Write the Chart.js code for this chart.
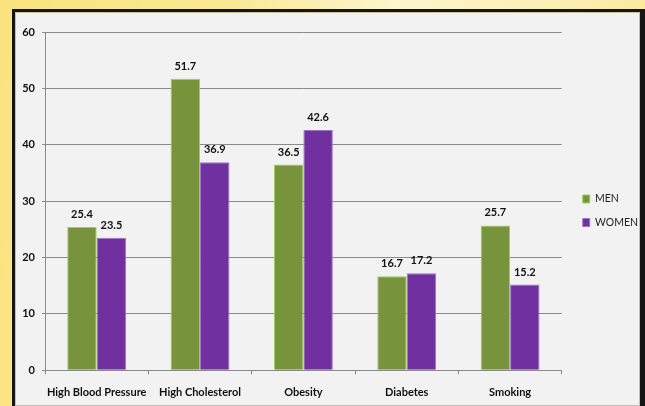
<!DOCTYPE html>
<html>
<head>
<meta charset="utf-8">
<script src="https://cdn.jsdelivr.net/npm/chart.js@4.4.0/dist/chart.umd.min.js"></script>
<style>
    html, body {
        margin: 0;
        padding: 0;
        width: 645px;
        height: 406px;
        overflow: hidden;
    }
    body {
        position: relative;
        background: linear-gradient(100deg, #fae37e 0%, #fbe892 30%, #fdf5cc 55%, #fcefb2 80%, #fae48a 100%);
    }
    .frame {
        position: absolute;
        left: 12px;
        top: 9px;
        width: 633px;
        height: 397px;
        background: #151515;
    }
    .panel {
        position: absolute;
        left: 3px;
        top: 3px;
        width: 623px;
        height: 392px;
        border: 1px solid #c9c39c;
        background: #f2f2f2;
        overflow: hidden;
    }
    #riskChart {
        display: block;
    }
</style>
</head>
<body>
<div class="frame">
    <div class="panel">
        <canvas id="riskChart" width="623" height="392"></canvas>
    </div>
</div>
<script>
const FONT = "Lato, 'DejaVu Sans Condensed', sans-serif";

// chart values
const categories = ['High Blood Pressure', 'High Cholesterol', 'Obesity', 'Diabetes', 'Smoking'];
const menValues = [25.4, 51.7, 36.5, 16.7, 25.7];
const womenValues = [23.5, 36.9, 42.6, 17.2, 15.2];
const seriesNames = ['MEN', 'WOMEN'];
const yTicks = [0, 10, 20, 30, 40, 50, 60];

Chart.defaults.font.family = FONT;
Chart.defaults.color = '#111';

// value above each bar
const valueLabels = {
    id: 'valueLabels',
    afterDatasetsDraw(chart) {
        const ctx = chart.ctx;
        ctx.save();
        ctx.font = 'bold 11px ' + FONT;
        ctx.fillStyle = '#111';
        ctx.textAlign = 'center';
        ctx.textBaseline = 'alphabetic';
        chart.data.datasets.forEach((ds, i) => {
            chart.getDatasetMeta(i).data.forEach((bar, j) => {
                ctx.fillText(ds.data[j].toFixed(1), bar.x, bar.y - 9);
            });
        });
        ctx.restore();
    }
};

// legend sits a little above the canvas middle
const legendNudge = {
    id: 'legendNudge',
    afterLayout(chart) {
        chart.legend.top -= 10.5;
        chart.legend.bottom -= 10.5;
    }
};

const ctx = document.getElementById('riskChart').getContext('2d');
new Chart(ctx, {
    type: 'bar',
    data: {
        labels: categories,
        datasets: [
            {
                label: seriesNames[0],
                data: menValues,
                backgroundColor: '#77933c',
                borderColor: '#9bd05a',
                borderWidth: 1,
                categoryPercentage: 0.57,
                barPercentage: 1
            },
            {
                label: seriesNames[1],
                data: womenValues,
                backgroundColor: '#7030a0',
                borderColor: '#9a74c4',
                borderWidth: 1,
                categoryPercentage: 0.57,
                barPercentage: 1
            }
        ]
    },
    options: {
        responsive: false,
        animation: false,
        layout: {
            padding: { top: 19, left: 2, right: -9, bottom: -5.5 }
        },
        plugins: {
            tooltip: { enabled: false },
            legend: {
                position: 'right',
                align: 'center',
                labels: {
                    boxWidth: 7,
                    boxHeight: 8,
                    padding: 13,
                    color: '#222',
                    font: { size: 10.5 }
                }
            }
        },
        scales: {
            x: {
                grid: {
                    drawOnChartArea: false,
                    drawTicks: true,
                    tickLength: 4,
                    color: '#8a8a8a'
                },
                border: { color: '#8a8a8a' },
                ticks: {
                    padding: 11.5,
                    maxRotation: 0,
                    autoSkip: false,
                    font: { size: 11, weight: 'bold' }
                }
            },
            y: {
                min: 0,
                max: 60,
                afterBuildTicks: (scale) => {
                    scale.ticks = yTicks.map(v => ({ value: v }));
                },
                afterFit: (scale) => {
                    scale.width = 27;
                },
                grid: {
                    color: '#8a8a8a',
                    tickLength: 3
                },
                border: { color: '#8a8a8a' },
                ticks: {
                    padding: 7,
                    font: { size: 11, weight: 'bold' }
                }
            },
            gap: {
                position: 'right',
                grid: { display: false },
                border: { display: false },
                ticks: { display: false },
                afterFit: (scale) => {
                    scale.width = 8;
                }
            }
        }
    },
    plugins: [valueLabels, legendNudge]
});
</script>
</body>
</html>
